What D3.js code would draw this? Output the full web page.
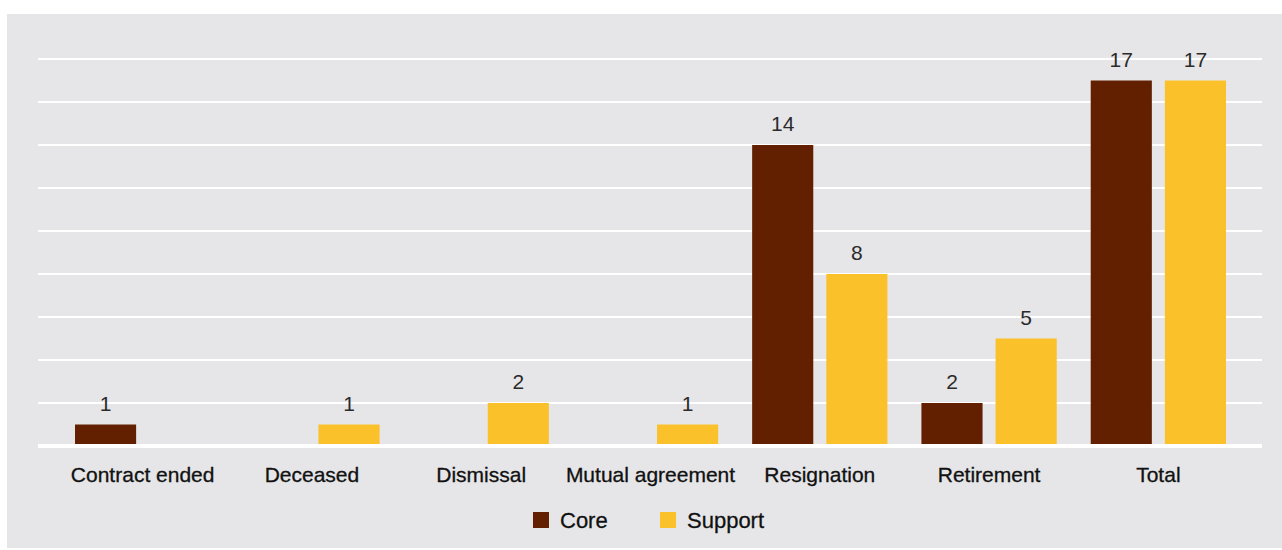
<!DOCTYPE html>
<html>
<head>
<meta charset="utf-8">
<title>Exits by reason</title>
<script src="https://d3js.org/d3.v7.min.js"></script>
<style>
  body { margin: 0; background: #fff; }
  text { font-family: "Liberation Sans", Arial, sans-serif; }
</style>
</head>
<body>
<svg width="1282" height="550"></svg>
<script>
// data
const categories = ["Contract ended", "Deceased", "Dismissal", "Mutual agreement", "Resignation", "Retirement", "Total"];
const series = ["Core", "Support"];
const coreValues = [1, 0, 0, 0, 14, 2, 17];
const supportValues = [0, 1, 2, 1, 8, 5, 17];
const gridTicks = [2, 4, 6, 8, 10, 12, 14, 16, 18];
const colors = { Core: "#632000", Support: "#fbc12a" };

const rows = categories.map((c, i) => ({ cat: c, Core: coreValues[i], Support: supportValues[i] }));

const svg = d3.select("svg");

// panel background
svg.append("rect")
    .attr("x", 7).attr("y", 14)
    .attr("width", 1275).attr("height", 534)
    .attr("fill", "#e6e6e8");

const x0 = d3.scaleBand().domain(categories).range([58, 1243]).paddingInner(0);
const bw = x0.bandwidth();
const x1 = d3.scaleBand().domain(series).range([17, bw - 17]).paddingInner(13 / 74);
const y = d3.scaleLinear().domain([0, 18]).range([446, 59]);

// gridlines
svg.append("g")
    .selectAll("line")
    .data(gridTicks)
    .join("line")
    .attr("x1", 38).attr("x2", 1262)
    .attr("y1", d => y(d)).attr("y2", d => y(d))
    .attr("stroke", "#fff")
    .attr("stroke-width", 2);

// bars
const groups = svg.append("g")
    .selectAll("g")
    .data(rows)
    .join("g")
    .attr("transform", d => `translate(${x0(d.cat)},0)`);

const cells = groups.selectAll("g")
    .data(d => series.map(s => ({ key: s, value: d[s] })).filter(e => e.value > 0))
    .join("g");

cells.append("rect")
    .attr("x", d => x1(d.key))
    .attr("y", d => y(d.value))
    .attr("width", x1.bandwidth())
    .attr("height", d => y(0) - y(d.value) - 2)
    .attr("fill", d => colors[d.key]);

cells.append("text")
    .attr("x", d => x1(d.key) + x1.bandwidth() / 2)
    .attr("y", d => y(d.value) - 14)
    .attr("text-anchor", "middle")
    .attr("font-size", 21)
    .attr("fill", "#2b2b2b")
    .text(d => d.value);

// baseline
svg.append("line")
    .attr("x1", 38).attr("x2", 1262)
    .attr("y1", y(0)).attr("y2", y(0))
    .attr("stroke", "#fff")
    .attr("stroke-width", 4);

// category axis
const xAxis = d3.axisBottom(x0).tickSize(0).tickPadding(0);
const ax = svg.append("g")
    .attr("transform", `translate(0,${y(0)})`)
    .call(xAxis);
ax.select(".domain").remove();
ax.selectAll("text")
    .attr("dy", 0)
    .attr("y", 36)
    .attr("font-size", 21)
    .attr("font-family", "Liberation Sans, Arial, sans-serif")
    .attr("fill", "#111")
    .attr("stroke", "#111")
    .attr("stroke-width", 0.3);

// legend
const legendX = [533, 660];
const legend = svg.append("g")
    .selectAll("g")
    .data(series)
    .join("g")
    .attr("transform", (d, i) => `translate(${legendX[i]},512)`);
legend.append("rect")
    .attr("width", 16).attr("height", 16)
    .attr("fill", d => colors[d]);
legend.append("text")
    .attr("x", 27).attr("y", 16)
    .attr("font-size", 22)
    .attr("fill", "#111")
    .attr("stroke", "#111")
    .attr("stroke-width", 0.3)
    .text(d => d);
</script>
</body>
</html>
